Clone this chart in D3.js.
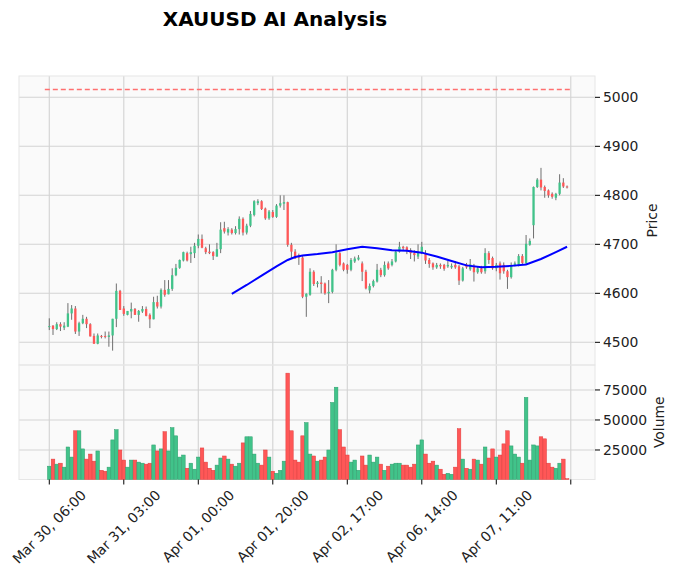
<!DOCTYPE html>
<html><head><meta charset="utf-8">
<script src="https://cdn.jsdelivr.net/npm/d3@7"></script>
<style>body{margin:0;background:#fff}svg{display:block;font-family:"DejaVu Sans",sans-serif}</style>
</head><body><svg id="c" width="678" height="577"></svg>
<script>
const opens  = [4531,4534,4527,4537,4530,4532,4559,4569,4522,4539,4548,4537,4513,4497,4513,4513,4511,4514,4548,4605,4569,4556,4563,4568,4556,4563,4568,4556,4547,4582,4573,4607,4598,4609,4637,4652,4667,4682,4680,4682,4697,4711,4692,4685,4684,4675,4690,4733,4724,4730,4723,4731,4752,4724,4738,4760,4784,4788,4773,4753,4766,4756,4779,4783,4786,4699,4685,4678,4673,4593,4597,4644,4619,4622,4620,4600,4603,4648,4682,4661,4658,4648,4665,4669,4661,4644,4606,4615,4624,4648,4637,4661,4658,4665,4685,4695,4694,4688,4682,4675,4682,4680,4668,4661,4653,4658,4658,4655,4653,4658,4655,4626,4659,4649,4656,4643,4651,4645,4682,4672,4651,4661,4658,4645,4633,4658,4658,4676,4661,4699,4739,4817,4832,4817,4810,4803,4795,4803,4826,4818];
const highs  = [4549,4535,4541,4541,4541,4580,4576,4574,4542,4556,4552,4539,4518,4518,4515,4522,4522,4548,4620,4607,4574,4564,4581,4570,4566,4574,4573,4559,4593,4595,4610,4627,4627,4651,4660,4669,4685,4685,4695,4703,4720,4720,4695,4700,4686,4703,4745,4746,4735,4733,4737,4757,4755,4742,4768,4790,4792,4790,4775,4770,4770,4782,4800,4800,4787,4703,4690,4681,4676,4600,4651,4647,4625,4635,4622,4627,4650,4700,4684,4663,4660,4672,4675,4678,4665,4648,4620,4628,4660,4652,4665,4665,4670,4688,4705,4697,4696,4692,4688,4700,4705,4688,4672,4663,4662,4661,4660,4666,4661,4666,4658,4654,4662,4670,4660,4655,4656,4692,4686,4675,4662,4665,4663,4648,4663,4665,4680,4680,4719,4712,4818,4835,4856,4820,4812,4806,4805,4843,4835,4820];
const lows   = [4525,4515,4525,4523,4525,4531,4546,4517,4513,4537,4529,4512,4497,4496,4508,4508,4491,4483,4531,4566,4554,4555,4549,4556,4542,4560,4553,4529,4547,4569,4569,4593,4598,4605,4635,4650,4665,4665,4662,4672,4692,4692,4680,4680,4668,4675,4682,4722,4718,4720,4720,4720,4718,4720,4735,4757,4780,4770,4750,4750,4754,4754,4775,4770,4695,4672,4670,4658,4590,4552,4595,4615,4612,4600,4597,4580,4600,4645,4655,4645,4640,4645,4662,4667,4625,4608,4600,4612,4622,4633,4634,4648,4655,4663,4683,4688,4680,4670,4665,4670,4680,4660,4652,4648,4650,4650,4646,4652,4650,4650,4617,4624,4650,4646,4624,4640,4640,4640,4660,4648,4645,4628,4640,4609,4630,4655,4655,4660,4660,4697,4712,4815,4810,4795,4795,4793,4790,4800,4815,4814];
const closes = [4533,4527,4537,4532,4534,4559,4569,4522,4539,4548,4537,4512,4497,4514,4511,4511,4514,4548,4605,4566,4558,4564,4568,4556,4564,4568,4554,4547,4582,4573,4607,4597,4609,4637,4652,4668,4684,4667,4684,4697,4711,4693,4684,4682,4676,4690,4730,4726,4731,4723,4731,4752,4724,4738,4762,4788,4788,4772,4753,4767,4756,4779,4784,4786,4699,4685,4671,4673,4593,4599,4644,4619,4622,4619,4600,4603,4648,4682,4658,4648,4648,4668,4671,4673,4644,4610,4615,4625,4648,4637,4658,4651,4665,4685,4695,4692,4688,4682,4678,4682,4695,4667,4660,4653,4658,4655,4650,4658,4656,4653,4626,4651,4653,4659,4643,4651,4643,4682,4668,4651,4658,4641,4645,4633,4658,4661,4676,4662,4701,4707,4817,4832,4816,4809,4800,4797,4803,4826,4818,4816];
const volumes = [11500,17400,13200,14000,10700,27500,19100,41000,41000,25900,17400,21600,15700,24200,8100,7300,10700,33400,41900,25000,16600,10700,16600,16600,14900,14000,13200,14000,29200,24200,25900,40200,24200,43600,36800,19100,20800,9800,14000,9000,19100,26700,14900,9800,8100,12400,18300,20000,17400,13200,11500,14000,30900,36000,36000,21600,14000,12400,25000,19100,7300,5600,8100,15700,89000,41000,16600,14900,36800,47800,21600,20000,15700,16600,19100,25000,64600,77300,41900,27500,20800,14900,16600,8100,20000,12400,20800,14900,19100,13200,8100,11500,13200,14000,14000,12400,12400,10700,13200,29200,33400,21600,14000,15700,12400,9000,4800,5600,4800,10700,42700,17400,9800,9000,17400,16600,13200,27500,18300,25900,19100,20800,30100,41000,28400,21600,19100,14000,68800,16600,29200,28400,36000,34300,14000,10700,9800,14000,17400,1100];
const maIndex  = [49,53,57,61,64,66,68,72,76,80,84,88,92,96,100,104,108,112,116,120,124,128,132,136,139];
const maValues = [4599,4617,4636,4655,4668,4674,4677,4680,4684,4690,4695,4692,4688,4687,4683,4675,4666,4657,4653,4654,4656,4659,4670,4684,4695];
const refLevel = 5016;
const xTickIndex  = [0,20,40,60,80,100,120,140];
const xTickLabels = ["Mar 30, 06:00","Mar 31, 03:00","Apr 01, 00:00","Apr 01, 20:00","Apr 02, 17:00","Apr 06, 14:00","Apr 07, 11:00",""];
const priceTicks  = [4500,4600,4700,4800,4900,5000];
const volumeTicks = [25000,50000,75000];
const title = "XAUUSD AI Analysis";

const UP = "#41c38a", DOWN = "#ff5757", UPE = "#2e9e6d", DOWNE = "#e03c3c";
const L = 19, R = 595, PT = 76, PB = 365, VB = 479.5;
const svg = d3.select("#c");
const x = d3.scaleLinear().domain([-8.13, 146.5]).range([L, R]);
const yP = d3.scaleLinear().domain([4453.7, 5043.5]).range([PB, PT]);
const yV = d3.scaleLinear().domain([0, 95800]).range([480, PB]);

svg.append("text").attr("x", 275).attr("y", 26).attr("text-anchor", "middle")
  .attr("font-size", 20).attr("font-weight", "bold").attr("fill", "#000").text(title);

// panels
svg.append("rect").attr("x", L).attr("y", PT).attr("width", R - L).attr("height", PB - PT).attr("fill", "#fafafa");
svg.append("rect").attr("x", L).attr("y", PB).attr("width", R - L).attr("height", VB - PB).attr("fill", "#fafafa");

const grid = svg.append("g").attr("stroke", "#d3d3d3").attr("stroke-width", 1.1);
priceTicks.forEach(t => grid.append("line").attr("x1", L).attr("x2", R).attr("y1", yP(t)).attr("y2", yP(t)));
volumeTicks.forEach(t => grid.append("line").attr("x1", L).attr("x2", R).attr("y1", yV(t)).attr("y2", yV(t)));
xTickIndex.forEach(t => {
  grid.append("line").attr("x1", x(t)).attr("x2", x(t)).attr("y1", PT).attr("y2", PB);
  grid.append("line").attr("x1", x(t)).attr("x2", x(t)).attr("y1", PB).attr("y2", VB);
});

// spines
const sp = svg.append("g").attr("fill", "none").attr("stroke", "#e6e6e6").attr("stroke-width", 1);
sp.append("rect").attr("x", L).attr("y", PT).attr("width", R - L).attr("height", PB - PT);
sp.append("rect").attr("x", L).attr("y", PB).attr("width", R - L).attr("height", VB - PB);

const idx = d3.range(opens.length);
const bw = 2.3;
// ref line
svg.append("line").attr("x1", x(-1.2)).attr("x2", x(139.8)).attr("y1", yP(refLevel)).attr("y2", yP(refLevel))
  .attr("stroke", "#ff7070").attr("stroke-width", 1.5).attr("stroke-dasharray", "5,3");

// wicks
svg.append("g").selectAll("line").data(idx).join("line")
  .attr("x1", i => x(i)).attr("x2", i => x(i))
  .attr("y1", i => yP(highs[i])).attr("y2", i => yP(lows[i]))
  .attr("stroke", "#6f6f6f").attr("stroke-width", 1);
// bodies
svg.append("g").selectAll("rect").data(idx).join("rect")
  .attr("x", i => x(i) - bw / 2).attr("width", bw)
  .attr("y", i => yP(Math.max(opens[i], closes[i])))
  .attr("height", i => Math.max(0.8, Math.abs(yP(opens[i]) - yP(closes[i]))))
  .attr("fill", i => closes[i] >= opens[i] ? UP : DOWN);

// MA
svg.append("path").datum(maIndex.map((d, k) => [d, maValues[k]]))
  .attr("d", d3.line().x(d => x(d[0])).y(d => yP(d[1])))
  .attr("fill", "none").attr("stroke", "#0000ff").attr("stroke-width", 2);

// volume
const vw = 3.6;
svg.append("g").selectAll("rect").data(idx).join("rect")
  .attr("x", i => x(i) - vw / 2).attr("width", vw)
  .attr("y", i => yV(volumes[i])).attr("height", i => Math.max(0, VB - yV(volumes[i])))
  .attr("fill", i => closes[i] >= opens[i] ? UP : DOWN)
  .attr("stroke", i => closes[i] >= opens[i] ? UPE : DOWNE).attr("stroke-width", 0.5);

// right axes
const ax = svg.append("g").attr("font-size", 13.9).attr("fill", "#222");
priceTicks.forEach(t => {
  ax.append("line").attr("x1", R).attr("x2", R + 5).attr("y1", yP(t)).attr("y2", yP(t)).attr("stroke", "#000");
  ax.append("text").attr("x", R + 8).attr("y", yP(t)).attr("dy", "0.35em").text(t);
});
volumeTicks.forEach(t => {
  ax.append("line").attr("x1", R).attr("x2", R + 5).attr("y1", yV(t)).attr("y2", yV(t)).attr("stroke", "#000");
  ax.append("text").attr("x", R + 8).attr("y", yV(t)).attr("dy", "0.35em").text(t);
});
ax.append("text").attr("transform", `translate(657,${(PT + PB) / 2}) rotate(-90)`).attr("text-anchor", "middle").text("Price");
ax.append("text").attr("transform", `translate(664,${(PB + VB) / 2}) rotate(-90)`).attr("text-anchor", "middle").text("Volume");

// x axis
xTickIndex.forEach((t, k) => {
  ax.append("line").attr("x1", x(t)).attr("x2", x(t)).attr("y1", VB).attr("y2", VB + 5).attr("stroke", "#000");
  if (xTickLabels[k]) {
    const tx = ax.append("text").attr("text-anchor", "middle").attr("dy", "0.35em").text(xTickLabels[k]);
    const len = tx.node().getComputedTextLength();
    const h = (len + 14) * Math.SQRT1_2;
    tx.attr("transform", `translate(${x(t)},${VB + 8 + h / 2}) rotate(-45)`);
  }
});
</script></body></html>
